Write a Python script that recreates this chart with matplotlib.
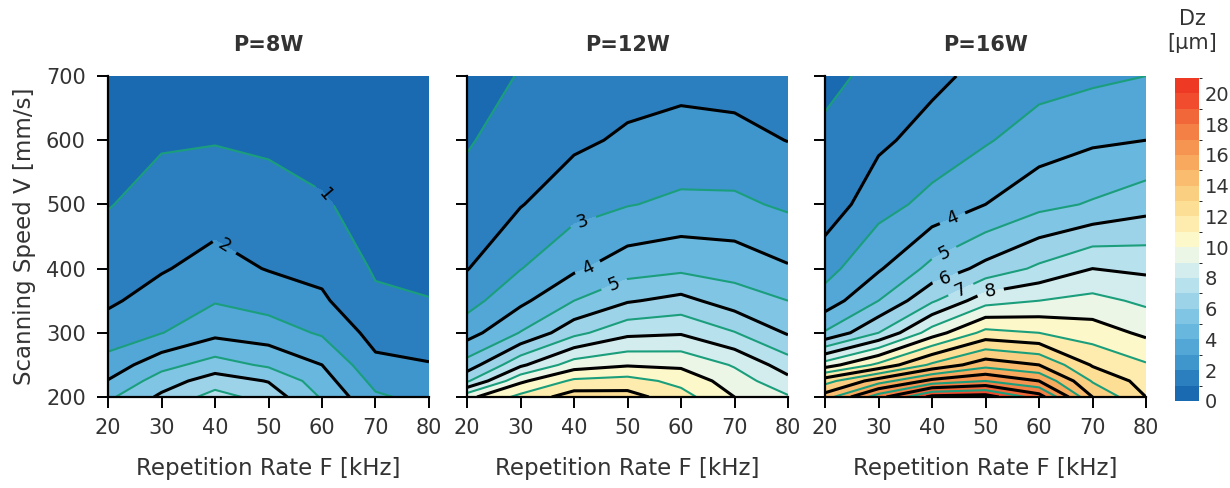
import numpy as np
import matplotlib
matplotlib.use('Agg')
import matplotlib.pyplot as plt
from matplotlib.colors import LinearSegmentedColormap, BoundaryNorm

plt.rcParams['font.family'] = ['DejaVu Sans']

# repetition rate F [kHz] (columns) and scanning speed V [mm/s] (rows)
freq = [20, 30, 40, 50, 60, 70, 80]
speed = [200, 225, 250, 300, 350, 400, 500, 600, 700]

# Dz [um], one row per speed, one column per freq
dz_8w = [
    [4.8, 6.2, 7.4, 6.6, 4.9, 3.15, 2.7],
    [4.05, 5.5, 6.5, 5.95, 4.45, 2.7, 2.4],
    [3.4, 4.65, 5.43, 4.83, 4.0, 2.24, 2.05],
    [2.43, 2.97, 3.73, 3.48, 2.88, 1.64, 1.54],
    [1.85, 2.4, 2.93, 2.6, 2.15, 1.16, 1.02],
    [1.53, 1.92, 2.35, 1.95, 1.74, 0.9, 0.85],
    [0.95, 1.38, 1.56, 1.35, 1.08, 0.7, 0.7],
    [0.75, 0.9, 0.95, 0.85, 0.7, 0.5, 0.5],
    [0.6, 0.6, 0.6, 0.55, 0.5, 0.4, 0.4],
]
dz_12w = [
    [9.7, 11.3, 12.5, 12.4, 11.4, 10.0, 9.1],
    [6.85, 9.8, 11.2, 11.4, 10.7, 9.5, 8.3],
    [5.42, 7.8, 9.5, 9.9, 9.8, 8.9, 7.5],
    [3.57, 5.05, 6.7, 7.75, 7.9, 7.05, 5.9],
    [2.62, 3.76, 5.0, 5.9, 6.3, 5.5, 5.0],
    [1.96, 2.97, 3.83, 4.57, 4.8, 4.6, 4.1],
    [1.41, 1.95, 2.63, 2.95, 3.2, 3.2, 2.84],
    [0.9, 1.52, 1.81, 2.15, 2.35, 2.26, 1.98],
    [0.6, 1.05, 1.3, 1.6, 1.7, 1.65, 1.5],
]
dz_16w = [
    [14.5, 17.6, 20.3, 20.5, 18.5, 14.0, 12.0],
    [12.6, 14.5, 16.3, 17.0, 16.0, 12.9, 11.6],
    [9.5, 11.25, 13.2, 14.6, 14.0, 11.9, 11.1],
    [5.1, 7.0, 9.5, 11.3, 11.0, 10.5, 9.8],
    [3.43, 5.0, 6.85, 8.6, 9.0, 9.3, 8.8],
    [2.63, 3.88, 5.3, 6.3, 7.2, 8.0, 7.8],
    [1.4, 2.62, 3.3, 4.0, 4.7, 5.1, 5.6],
    [1.24, 1.8, 2.4, 2.9, 3.5, 3.85, 4.0],
    [0.7, 1.3, 1.75, 2.3, 2.6, 2.8, 3.0],
]

titles = ['P=8W', 'P=12W', 'P=16W']
panels = [dz_8w, dz_12w, dz_16w]

# where the inline contour labels sit (F, V)
label_spots = [
    {1: (60, 510), 2: (41, 425)},
    {3: (42, 465), 4: (43, 395), 5: (48, 365)},
    {4: (44, 475), 5: (42.5, 420), 6: (42.5, 385), 7: (45.5, 365), 8: (51, 360)},
]

anchors = [
    (0, '#1a6ab2'), (2, '#3d95cc'), (4, '#62b4de'), (6, '#96d0e8'),
    (8, '#c9e9f1'), (9.5, '#eef7e6'), (10.5, '#fdf8c8'), (12, '#fde7a0'),
    (14, '#fbc97a'), (16, '#f8a45a'), (18, '#f47c44'), (20, '#f04a2c'),
    (21, '#ee3a24'),
]
cmap = LinearSegmentedColormap.from_list('dz', [(v / 21, c) for v, c in anchors])
fill_levels = np.arange(0, 22, 1)
norm = BoundaryNorm(fill_levels, cmap.N)
line_levels = np.arange(1, 21, 1)


def line_style(lv):
    return ('#1b9e7c', 1.5) if lv % 2 else ('black', 2.2)


txt = '#333333'
fig = plt.figure(figsize=(12.3, 4.88), dpi=100)
lefts = [108, 467, 825]
F, V = np.meshgrid(freq, speed)

for i, (data, title) in enumerate(zip(panels, titles)):
    ax = fig.add_axes([lefts[i] / 1230, 1 - 397 / 488, 321 / 1230, 321 / 488])
    Z = np.array(data)
    cf = ax.contourf(F, V, Z, levels=fill_levels, cmap=cmap, norm=norm)
    spots = label_spots[i]
    plain = [lv for lv in line_levels if lv not in spots]
    ax.contour(F, V, Z, levels=plain,
               colors=[line_style(lv)[0] for lv in plain],
               linewidths=[line_style(lv)[1] for lv in plain])
    # labelled levels drawn one by one so the label gap stays open
    for lv, pos in spots.items():
        c, w = line_style(lv)
        cs = ax.contour(F, V, Z, levels=[lv], colors=[c], linewidths=[w])
        ax.clabel(cs, manual=[pos], fmt='%d', fontsize=13, colors='black',
                  inline=True, inline_spacing=8)
    ax.set_xlim(20, 80)
    ax.set_ylim(200, 700)
    ax.set_xticks(range(20, 81, 10))
    ax.set_yticks(range(200, 701, 100))
    for s in ['top', 'right']:
        ax.spines[s].set_visible(False)
    for s in ['left', 'bottom']:
        ax.spines[s].set_linewidth(1.6)
    ax.tick_params(direction='out', length=8, width=1.4, labelsize=15, labelcolor=txt)
    ax.tick_params(axis='x', pad=7)
    ax.tick_params(axis='y', pad=8)
    if i > 0:
        ax.set_yticklabels([])
    else:
        ax.set_ylabel('Scanning Speed V [mm/s]', fontsize=16.5, color=txt, labelpad=7)
    ax.set_xlabel('Repetition Rate F [kHz]', fontsize=16.5, color=txt, labelpad=14)
    ax.set_title(title, fontsize=15, fontweight='bold', color=txt, pad=18)

cax = fig.add_axes([1175 / 1230, 1 - 401 / 488, 24 / 1230, 323 / 488])
cb = fig.colorbar(cf, cax=cax, ticks=range(0, 21, 2))
cb.outline.set_visible(False)
cb.ax.tick_params(length=0, labelsize=14, labelcolor=txt, pad=4)
fig.text(1192 / 1230, 1 - 31 / 488, 'Dz\n[µm]', ha='center', va='center',
         fontsize=15, color=txt, linespacing=1.25)

fig.savefig('out.png', dpi=100)
